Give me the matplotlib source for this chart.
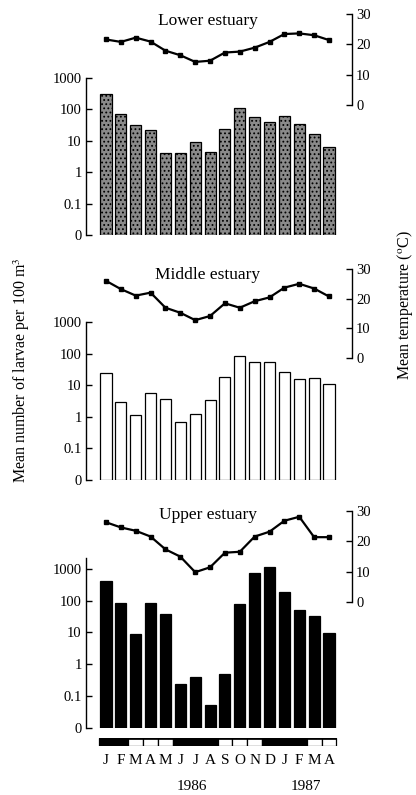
import numpy as np
import matplotlib
matplotlib.use("Agg")
import matplotlib.pyplot as plt
from matplotlib import transforms
from matplotlib.patches import Rectangle

plt.rcParams['font.family'] = ['Liberation Serif', 'DejaVu Serif']
plt.rcParams['mathtext.fontset'] = 'stix'
plt.rcParams['hatch.linewidth'] = 0.8

# ---------------- data ----------------
months = ["J", "F", "M", "A", "M", "J", "J", "A", "S", "O", "N", "D", "J", "F", "M", "A"]
years = ["1986", "1987"]
season_dark = [1, 1, 0, 0, 0, 1, 1, 1, 0, 0, 0, 1, 1, 1, 0, 0]

lower_larvae = [300, 70, 33, 22, 4.2, 4.2, 9.4, 4.5, 24, 113, 56, 39, 62, 35, 16, 6.3]
lower_temp = [21.6, 20.8, 22.2, 20.9, 17.9, 16.4, 14.2, 14.6, 17.3, 17.6, 18.9, 20.8, 23.4, 23.6, 23.0, 21.4]

middle_larvae = [24, 3.0, 1.15, 5.9, 3.6, 0.66, 1.26, 3.4, 19, 88, 57, 57, 27.5, 15.6, 17.6, 11.4]
middle_temp = [26.0, 23.2, 21.0, 22.0, 16.9, 15.2, 12.7, 14.1, 18.4, 16.9, 19.1, 20.4, 23.7, 25.0, 23.4, 20.7]

upper_larvae = [430, 83, 8.9, 83, 38, 0.22, 0.38, 0.041, 0.47, 79, 765, 1170, 193, 50, 34, 9.9]
upper_temp = [26.3, 24.6, 23.5, 21.6, 17.4, 15.0, 9.9, 11.5, 16.3, 16.6, 21.6, 23.2, 26.8, 28.1, 21.4, 21.4]

titles = ["Lower estuary", "Middle estuary", "Upper estuary"]
larvae_ticks = [0.01, 0.1, 1, 10, 100, 1000]
larvae_ticklabels = ["0", "0.1", "1", "10", "100", "1000"]
temp_ticks = [0, 10, 20, 30]

# ---------------- layout (pixels) ----------------
W, H = 416, 795
fig = plt.figure(figsize=(W / 100, H / 100), dpi=100)

x0_px, dx_px = 106.0, (329.0 - 106.0) / 15
left_px, right_px = 86.0, 352.0
xlim = ((left_px - x0_px) / dx_px, (right_px - x0_px) / dx_px)

panels = [
    dict(t30=14, t0=105, b1000=78, b0=235, stop=78, title_y=21,
         face="#8a8a8a", hatch="....", data=(lower_larvae, lower_temp)),
    dict(t30=269, t0=357.7, b1000=322.3, b0=480, stop=322.3, title_y=275,
         face="white", hatch=None, data=(middle_larvae, middle_temp)),
    dict(t30=511, t0=602.3, b1000=569, b0=727.7, stop=558, title_y=515,
         face="black", hatch=None, data=(upper_larvae, upper_temp)),
]

x = np.arange(len(months))
for p, title in zip(panels, titles):
    top = p["t30"] - 3
    bot = p["b0"]
    ax = fig.add_axes([left_px / W, 1 - bot / H, (right_px - left_px) / W, (bot - top) / H])
    d = (p["b0"] - p["b1000"]) / 5.0
    ax.set_yscale("log")
    ax.set_ylim(10 ** -2, 10 ** (-2 + (bot - top) / d))
    ax.set_xlim(*xlim)
    larvae, temp = p["data"]
    ax.bar(x, larvae, width=0.74, bottom=0.01, facecolor=p["face"], edgecolor="black",
           linewidth=0.9, hatch=p["hatch"])
    for s in ["top", "right", "bottom"]:
        ax.spines[s].set_visible(False)
    spine_top_val = 10 ** (-2 + (bot - p["stop"]) / d)
    ax.spines["left"].set_bounds(0.01, spine_top_val)
    ax.spines["left"].set_linewidth(1.0)
    ax.set_yticks(larvae_ticks)
    ax.set_yticklabels(larvae_ticklabels)
    ax.yaxis.set_minor_locator(matplotlib.ticker.NullLocator())
    ax.tick_params(axis="y", direction="in", length=4, width=1.0, labelsize=10.5, pad=3)
    ax.set_xticks([])
    ax.patch.set_visible(False)

    tx = ax.twinx()
    tx.set_xlim(*xlim)
    ppd = (p["t0"] - p["t30"]) / 30.0
    tx.set_ylim((p["t0"] - bot) / ppd, (p["t0"] - top) / ppd)
    for s in ["top", "left", "bottom"]:
        tx.spines[s].set_visible(False)
    tx.spines["right"].set_bounds(0, 30)
    tx.spines["right"].set_linewidth(1.0)
    tx.set_yticks(temp_ticks)
    tx.tick_params(axis="y", direction="in", length=4, width=1.0, labelsize=10.5, pad=3)
    tx.plot(x, temp, color="black", linewidth=1.6, marker="s", markersize=2.5)

    fig.text(208 / W, 1 - p["title_y"] / H, title, ha="center", va="center", fontsize=12.5)

# season bar
sax = fig.add_axes([left_px / W, 1 - 746 / H, (right_px - left_px) / W, 8.5 / H])
sax.set_xlim(*xlim)
sax.set_ylim(0, 1)
sax.axis("off")
for i, dk in enumerate(season_dark):
    sax.add_patch(Rectangle((i - 0.5, 0), 1, 1, facecolor="black" if dk else "white",
                            edgecolor="black", linewidth=0.9))
sax.add_patch(Rectangle((-0.5, 0.8), len(months), 0.2, facecolor="black", edgecolor="black", linewidth=0.5))

tr = transforms.blended_transform_factory(sax.transData, fig.transFigure)
for i, m in enumerate(months):
    sax.text(i, 1 - 760 / H, m, transform=tr, ha="center", va="center", fontsize=11)
sax.text(5.8, 1 - 787 / H, years[0], transform=tr, ha="center", va="center", fontsize=11)
sax.text(13.45, 1 - 787 / H, years[1], transform=tr, ha="center", va="center", fontsize=11)

fig.text(22 / W, 1 - 370 / H, "Mean number of larvae per 100 m$^3$", rotation=90,
         ha="center", va="center", fontsize=11.5)
fig.text(405 / W, 1 - 305 / H, "Mean temperature ($^{\\mathrm{o}}$C)", rotation=90,
         ha="center", va="center", fontsize=11.5)

fig.savefig("out.png", dpi=100)
